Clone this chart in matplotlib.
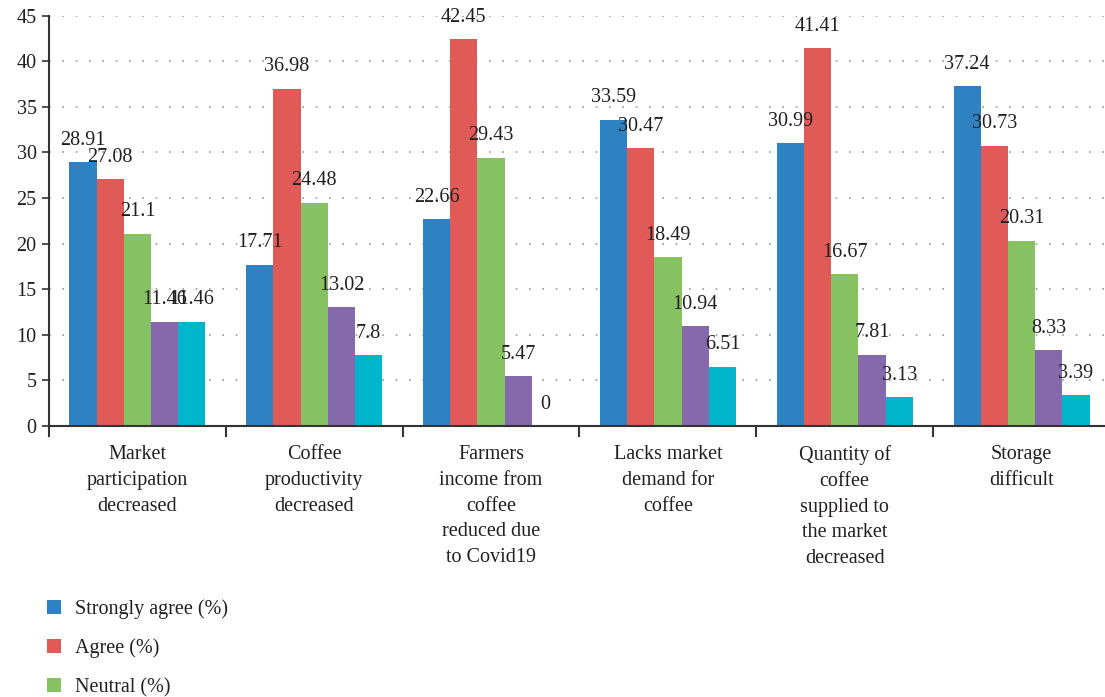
import matplotlib.pyplot as plt
import numpy as np

categories = ["Market\nparticipation\ndecreased", "Coffee\nproductivity\ndecreased",
              "Farmers\nincome from\ncoffee\nreduced due\nto Covid19", "Lacks market\ndemand for\ncoffee",
              "Quantity of\ncoffee\nsupplied to\nthe market\ndecreased", "Storage\ndifficult"]
series_names = ["Strongly agree (%)", "Agree (%)", "Neutral (%)", "Disagree (%)", "Strongly disagree (%)"]
strongly_agree = [28.91, 17.71, 22.66, 33.59, 30.99, 37.24]
agree = [27.08, 36.98, 42.45, 30.47, 41.41, 30.73]
neutral = [21.1, 24.48, 29.43, 18.49, 16.67, 20.31]
disagree = [11.46, 13.02, 5.47, 10.94, 7.81, 8.33]
strongly_disagree = [11.46, 7.8, 0, 6.51, 3.13, 3.39]
series = [strongly_agree, agree, neutral, disagree, strongly_disagree]
colors = ["#2E82C1", "#E05A57", "#86C262", "#8669AC", "#00B5CC"]
label_texts = [[f"{v:g}" for v in s] for s in series]

plt.rcParams['font.family'] = ['Liberation Serif', 'DejaVu Serif']
txt = "#231F20"
fs = 14.5

fig = plt.figure(figsize=(11.05, 6.97), dpi=100)
ax = fig.add_axes([49/1105, 1-426/697, (1110-49)/1105, (426-15.7)/697])

x = np.arange(len(categories))
w = 0.154
handles = []
for i, (s, c) in enumerate(zip(series, colors)):
    b = ax.bar(x + (i-2)*w, s, w, color=c, label=series_names[i], zorder=2)
    handles.append(b)
    for xi, v, t in zip(x + (i-2)*w, s, label_texts[i]):
        ax.annotate(t, (xi, v), xytext=(0, 12.5), textcoords='offset points',
                    ha='center', va='baseline', fontsize=fs, color=txt, zorder=3)

ax.set_xlim(-0.5, 5.5)
ax.set_ylim(0, 45)
ax.set_yticks(np.arange(0, 46, 5))
ax.set_xticks(np.arange(-0.5, 6, 1))
ax.set_xticklabels([])
ax.set_xticks(x, minor=True)
ax.set_xticklabels(categories, minor=True, fontsize=fs, color=txt, linespacing=1.47)
ax.tick_params(axis='x', which='major', length=8, width=1.5, color='#333333', direction='out')
ax.tick_params(axis='x', which='minor', length=0, pad=14)
ax.tick_params(axis='y', length=5, width=1.2, color='#333333', labelsize=fs, labelcolor=txt, pad=4)
for sp in ['top', 'right']:
    ax.spines[sp].set_visible(False)
for sp in ['left', 'bottom']:
    ax.spines[sp].set_color('#333333')
    ax.spines[sp].set_linewidth(1.5)
for yv in range(5, 46, 5):
    ax.axhline(yv, color='#999999', linestyle=(0, (1, 7)), linewidth=1.2, zorder=1)

leg = fig.legend(handles=handles[:3], loc='upper left', bbox_to_anchor=(47/1105, 1-599/697),
                 frameon=False, fontsize=fs, handlelength=0.7, handleheight=0.7,
                 handletextpad=0.7, labelspacing=0.98, borderpad=0, borderaxespad=0,
                 labelcolor=txt)

fig.savefig("out.png", dpi=100)
